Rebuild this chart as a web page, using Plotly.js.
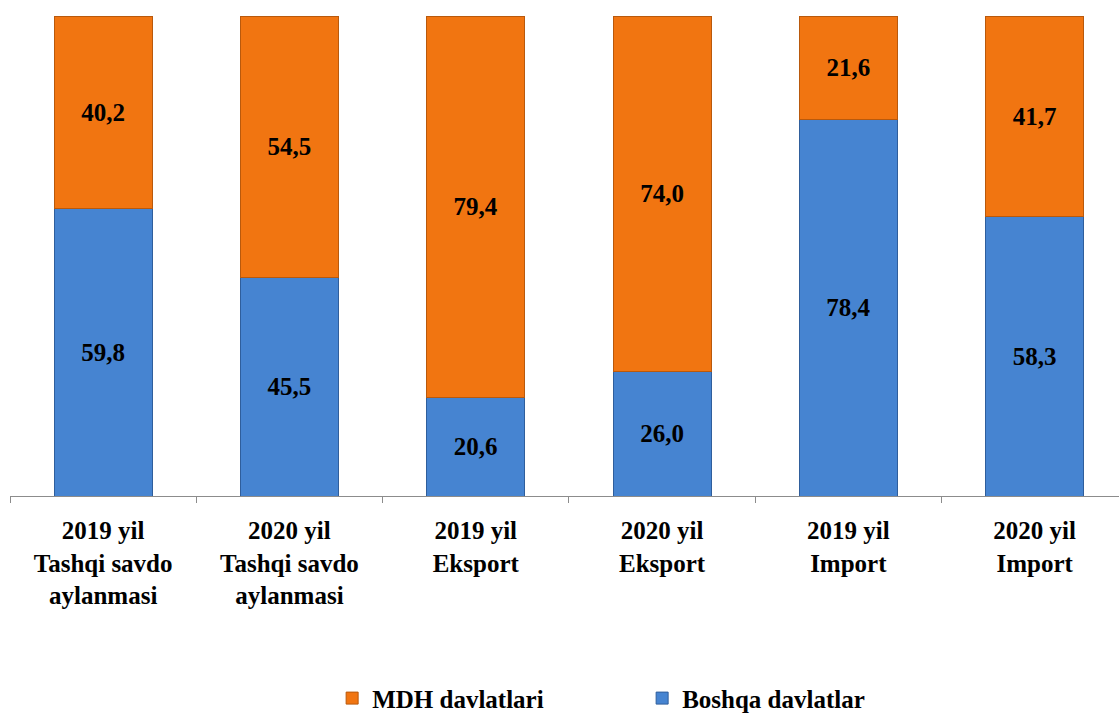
<!DOCTYPE html>
<html>
<head>
<meta charset="utf-8">
<script src="https://cdn.plot.ly/plotly-3.0.1.min.js"></script>
<style>html,body{margin:0;padding:0;background:#fff;}#chart{width:1119px;height:717px;}</style>
</head>
<body>
<div id="chart"></div>
<script>
const categories = ["2019 yil<br>Tashqi savdo<br>aylanmasi", "2020 yil<br>Tashqi savdo<br>aylanmasi", "2019 yil<br>Eksport", "2020 yil<br>Eksport", "2019 yil<br>Import", "2020 yil<br>Import"];
const boshqaValues = [59.8, 45.5, 20.6, 26.0, 78.4, 58.3];
const mdhValues = [40.2, 54.5, 79.4, 74.0, 21.6, 41.7];
const seriesNames = ["Boshqa davlatlar", "MDH davlatlari"];

const xIdx = categories.map((c, i) => i);
const fontFam = 'Liberation Serif';

const traces = [
  {
    type: 'bar', name: seriesNames[0], x: xIdx, y: boshqaValues,
    marker: {color: '#4684D1', line: {color: '#2F5E9C', width: 1}},
    texttemplate: '<b>%{y:.1f}</b>', textposition: 'inside', insidetextanchor: 'middle',
    textfont: {family: fontFam, size: 25, color: '#000'}, textangle: 0,
    hoverinfo: 'skip'
  },
  {
    type: 'bar', name: seriesNames[1], x: xIdx, y: mdhValues,
    marker: {color: '#F17511', line: {color: '#B9590C', width: 1}},
    texttemplate: '<b>%{y:.1f}</b>', textposition: 'inside', insidetextanchor: 'middle',
    textfont: {family: fontFam, size: 25, color: '#000'}, textangle: 0,
    hoverinfo: 'skip'
  }
];

const layout = {
  width: 1119, height: 717,
  barmode: 'stack', bargap: 0.474,
  separators: ', ',
  font: {family: fontFam, color: '#000'},
  margin: {l: 10, r: 0, t: 16, b: 221},
  paper_bgcolor: '#fff', plot_bgcolor: '#fff',
  showlegend: true,
  legend: {
    orientation: 'h', traceorder: 'reversed',
    xref: 'paper', x: 0.57, xanchor: 'center',
    yref: 'container', y: 0.026, yanchor: 'middle',
    font: {family: fontFam, size: 25, color: '#000', weight: 'bold'},
    entrywidth: 265, itemwidth: 30
  },
  xaxis: {
    type: 'linear', range: [-0.5, 5.453],
    tickmode: 'array', tickvals: xIdx, ticktext: categories.map(c => '<b>' + c + '</b>'),
    showline: true, linecolor: '#8C8C8C', linewidth: 1,
    ticks: '', showgrid: false, zeroline: false, automargin: false,
    ticklabelstandoff: 12,
    tickfont: {family: fontFam, size: 25, color: '#000'}
  },
  xaxis2: {
    overlaying: 'x', matches: 'x', range: [-0.5, 5.453],
    tickmode: 'array', tickvals: [-0.5, 0.5, 1.5, 2.5, 3.5, 4.5],
    ticks: 'outside', ticklen: 6, tickcolor: '#8C8C8C', showticklabels: false,
    showgrid: false, zeroline: false, showline: false, anchor: 'y'
  },
  yaxis: {range: [0, 100], visible: false, fixedrange: true}
};

traces.push({type: 'scatter', x: [0], y: [0], xaxis: 'x2', mode: 'none', showlegend: false, hoverinfo: 'skip'});

Plotly.newPlot('chart', traces, layout, {displayModeBar: false, staticPlot: true});
</script>
</body>
</html>
